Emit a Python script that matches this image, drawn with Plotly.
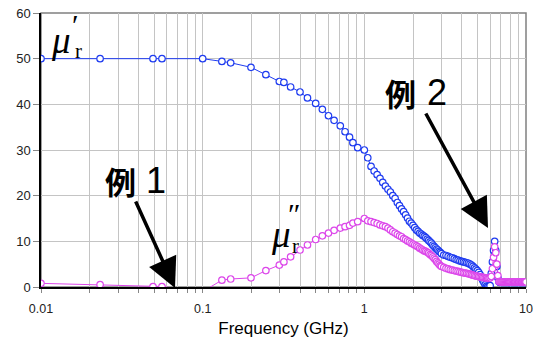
import plotly.graph_objects as go

# ---------------- data ----------------
freq_ghz = [
    0.01, 0.0232, 0.0493, 0.056, 0.1, 0.1315, 0.149, 0.199, 0.246, 0.298, 0.318, 0.35,
    0.40, 0.445, 0.50, 0.55, 0.60, 0.65, 0.71, 0.76, 0.81, 0.85, 0.91,
    1.00, 1.05, 1.10, 1.15, 1.20, 1.25, 1.30, 1.35, 1.40, 1.45, 1.50, 1.55, 1.60, 1.65,
    1.70, 1.75, 1.80, 1.85, 1.90, 1.95, 2.00, 2.05, 2.10, 2.15, 2.20, 2.25, 2.30, 2.35,
    2.40, 2.45, 2.50, 2.55, 2.60, 2.65, 2.70, 2.75, 2.80, 2.85, 2.90, 2.95, 3.00,
    3.1, 3.2, 3.3, 3.4, 3.5, 3.6, 3.7, 3.8, 3.9, 4.0, 4.1, 4.2, 4.3, 4.4, 4.5, 4.6, 4.7,
    4.8, 4.9, 5.0, 5.1, 5.2, 5.3, 5.4, 5.5, 5.6, 5.7, 5.8, 5.9, 6.0, 6.1, 6.2, 6.3, 6.4,
    6.5, 6.6, 6.7, 6.8, 6.9, 7.0, 7.1, 7.2, 7.3, 7.4, 7.5, 7.6, 7.7, 7.8, 7.9, 8.0, 8.1,
    8.2, 8.3, 8.4, 8.5, 8.6, 8.7, 8.8, 8.9, 9.0, 9.1, 9.2, 9.3, 9.4, 9.5, 9.6, 9.7, 9.8,
    9.9, 10.0,
]

mu_real = [
    50, 50, 50, 50, 50, 49.4, 49.1, 48.1, 46.5, 45.0, 44.8, 43.8,
    42.7, 41.4, 40.2, 38.9, 37.5, 36.5, 35.3, 34.0, 32.8, 31.6, 30.5,
    30.0, 28.3, 26.4, 25.4, 24.6, 23.8, 22.9, 22.1, 21.4, 20.8, 20.0, 19.4, 18.5, 17.8,
    17.1, 16.5, 15.8, 15.1, 14.4, 14.0, 13.5, 13.0, 12.5, 12.2, 11.8, 11.6, 11.3, 11.1,
    10.8, 10.5, 10.2, 9.9, 9.6, 9.2, 8.9, 8.6, 8.3, 8.1, 7.8, 7.6, 7.3,
    7.0, 6.9, 6.7, 6.5, 6.4, 6.2, 6.0, 5.9, 5.7, 5.6, 5.5, 5.4, 5.3, 5.2, 5.0, 4.8, 4.5,
    4.2, 3.9, 3.6, 3.2, 2.7, 2.1, 1.5, 1.0, 0.5, 0.2, 0.1, 0.0, 0.3, 3.0, 5.5, 8.0, 10.0,
    8.0, 4.5, 2.0, 1.2, 1.0, 1.0, 1.0, 1.0, 1.0, 1.0, 1.0, 1.0, 1.0, 1.0, 1.0, 1.0, 1.0,
    1.0, 1.0, 1.0, 1.0, 1.0, 1.0, 1.0, 1.0, 1.0, 1.0, 1.0, 1.0, 1.0, 1.0, 1.0, 1.0, 1.0,
    1.0, 1.0,
]

mu_imag = [
    0.8, 0.5, 0.1, 0.1, -1.0, 1.5, 1.75, 2.0, 3.6, 4.8, 5.5, 6.6,
    8.1, 9.2, 10.4, 11.2, 11.8, 12.4, 12.9, 13.2, 13.5, 14.0, 14.3,
    15.0, 14.5, 14.3, 14.1, 13.9, 13.6, 13.4, 13.2, 12.9, 12.5, 12.1, 11.8, 11.5, 11.2,
    11.0, 10.6, 10.4, 10.1, 9.9, 9.6, 9.4, 9.2, 9.0, 8.8, 8.5, 8.3, 8.1, 7.9,
    7.8, 7.6, 7.4, 7.1, 6.9, 6.6, 6.3, 6.0, 5.6, 5.3, 5.0, 4.7, 4.5,
    4.3, 4.1, 3.95, 3.8, 3.7, 3.6, 3.5, 3.4, 3.3, 3.2, 3.1, 3.05, 3.0, 2.9, 2.8, 2.7, 2.6,
    2.5, 2.4, 2.35, 2.3, 2.2, 2.15, 2.1, 2.05, 2.0, 1.95, 1.9, 1.9, 2.0, 2.3, 4.0, 6.5, 8.8,
    7.5, 5.0, 2.5, 1.2, 1.1, 1.1, 1.1, 1.1, 1.1, 1.1, 1.1, 1.1, 1.1, 1.1, 1.1, 1.1, 1.1,
    1.1, 1.1, 1.1, 1.1, 1.1, 1.1, 1.1, 1.1, 1.1, 1.1, 1.1, 1.1, 1.1, 1.1, 1.1, 1.1, 1.1,
    1.1, 1.1,
]

x_tick_vals = [0.01, 0.02, 0.03, 0.04, 0.05, 0.06, 0.07, 0.08, 0.09,
               0.1, 0.2, 0.3, 0.4, 0.5, 0.6, 0.7, 0.8, 0.9,
               1, 2, 3, 4, 5, 6, 7, 8, 9, 10]
x_tick_text = ["0.01", "", "", "", "", "", "", "", "",
               "0.1", "", "", "", "", "", "", "", "",
               "1", "", "", "", "", "", "", "", "", "10"]
y_tick_vals = [0, 10, 20, 30, 40, 50, 60]

# ---------------- figure ----------------
W, H = 533, 338
ML, MR, MT, MB = 41, 7, 13, 51
PW = W - ML - MR
PH = H - MT - MB


def px(x):  # window pixel -> paper fraction
    return (x - ML) / PW


def py(y):
    return (MT + PH - y) / PH


BLUE = "#1f3cf0"
MAG = "#dc46ea"

fig = go.Figure()
fig.add_trace(go.Scatter(
    x=freq_ghz, y=mu_real, mode="lines+markers",
    line=dict(color=BLUE, width=1),
    marker=dict(symbol="circle", size=6.5, color="white", line=dict(color=BLUE, width=1.2)),
    showlegend=False,
))
fig.add_trace(go.Scatter(
    x=freq_ghz, y=mu_imag, mode="lines+markers",
    line=dict(color=MAG, width=1),
    marker=dict(symbol="circle", size=6.5, color="white", line=dict(color=MAG, width=1.2)),
    showlegend=False,
))

serif = "Liberation Serif"
sans = "Liberation Sans"
cjk = "Noto Sans CJK JP"

ann = []
# mu' label
ann.append(dict(text="<i>μ</i>", x=px(61), y=py(40), font=dict(family=serif, size=37, color="black")))
ann.append(dict(text="′", x=px(75), y=py(24), font=dict(family=serif, size=30, color="black")))
ann.append(dict(text="r", x=px(78), y=py(51), font=dict(family=serif, size=21, color="black")))
# mu'' label
ann.append(dict(text="<i>μ</i>", x=px(281), y=py(234), font=dict(family=serif, size=37, color="black")))
ann.append(dict(text="″", x=px(294), y=py(213), font=dict(family=serif, size=30, color="black")))
ann.append(dict(text="r", x=px(295), y=py(246), font=dict(family=serif, size=21, color="black")))
# example labels
ann.append(dict(text="例", x=px(120), y=py(180), font=dict(family=cjk, size=31, color="black", weight=700)))
ann.append(dict(text="1", x=px(156), y=py(180), font=dict(family=sans, size=36, color="black")))
ann.append(dict(text="例", x=px(400), y=py(92), font=dict(family=cjk, size=31, color="black", weight=700)))
ann.append(dict(text="2", x=px(437), y=py(92), font=dict(family=sans, size=36, color="black")))
for a in ann:
    a.update(xref="paper", yref="paper", showarrow=False, xanchor="center", yanchor="middle")

# arrows
ann.append(dict(text="", x=px(175), y=py(288), ax=135 - 175, ay=200 - 288, xref="paper", yref="paper",
                showarrow=True, arrowhead=2, arrowsize=1.7, arrowwidth=3.5, arrowcolor="black"))
ann.append(dict(text="", x=px(488), y=py(228), ax=425 - 488, ay=112 - 228, xref="paper", yref="paper",
                showarrow=True, arrowhead=2, arrowsize=1.7, arrowwidth=3.5, arrowcolor="black"))

fig.update_layout(
    width=W, height=H,
    margin=dict(l=ML, r=MR, t=MT, b=MB, autoexpand=False),
    paper_bgcolor="white", plot_bgcolor="white",
    font=dict(family=sans, color="#222222"),
    annotations=ann,
    hovermode=False,
    shapes=[dict(type="rect", xref="paper", yref="paper", x0=0, x1=1, y0=0, y1=1,
                 line=dict(color="#808080", width=1.5), layer="below")],
    xaxis=dict(
        type="log", range=[-2, 1],
        tickmode="array", tickvals=x_tick_vals, ticktext=x_tick_text,
        showgrid=True, gridcolor="#c4c4c4", gridwidth=1,
        showline=True, linecolor="black", linewidth=1.5,
        ticks="outside", ticklen=4, tickcolor="#888888",
        ticklabelstandoff=5, ticklabeloverflow="allow",
        tickfont=dict(family=sans, size=12.5, color="#222222"),
        title=dict(text="Frequency (GHz)", font=dict(family=sans, size=17, color="black"), standoff=8),
        zeroline=False, automargin=False,
    ),
    yaxis=dict(
        range=[0, 60],
        tickmode="array", tickvals=y_tick_vals,
        showgrid=True, gridcolor="#c4c4c4", gridwidth=1,
        showline=True, linecolor="black", linewidth=1.5,
        ticks="outside", ticklen=6, tickcolor="#888888",
        ticklabeloverflow="allow",
        tickfont=dict(family=sans, size=13, color="#222222"),
        zeroline=False, automargin=False,
    ),
)

# remove the page's default 8px body margin so the figure fills the window
fig.write_html("out.html", config={"displayModeBar": False},
               post_script="document.body.style.margin='0px';")
